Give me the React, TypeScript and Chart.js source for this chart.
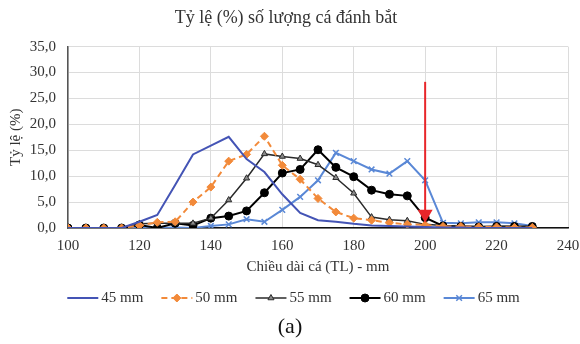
import React, { useEffect, useRef } from "react";
import { Chart, registerables } from "chart.js";
import { drawPoint } from "chart.js/helpers";

Chart.register(...registerables);

const lengths = [100, 105, 110, 115, 120, 125, 130, 135, 140, 145, 150, 155, 160, 165, 170, 175, 180, 185, 190, 195, 200, 205, 210, 215, 220, 225, 230];

const mesh45 = [0, 0, 0, 0, 1.2, 2.5, 8.3, 14.2, 15.9, 17.6, 13.3, 10.8, 6.5, 2.9, 1.5, 1.2, 0.8, 0.5, 0.4, 0.3, 0.2, 0.1, 0.1, 0, 0, 0, 0];
const mesh50 = [0, 0, 0, 0, 0.5, 1.1, 1.2, 5.0, 7.9, 12.9, 14.2, 17.7, 12.1, 9.4, 5.7, 3.1, 1.9, 1.5, 1.0, 0.7, 0.6, 0.3, 0.3, 0.2, 0.2, 0.1, 0.1];
const mesh55 = [0, 0, 0, 0.1, 0.8, 0.9, 0.9, 0.9, 1.9, 5.4, 9.6, 14.3, 13.8, 13.4, 12.2, 9.7, 6.7, 2.1, 1.6, 1.4, 0.7, 0.5, 0.4, 0.3, 0.3, 0.3, 0.2];
const mesh60 = [0, 0, 0, 0, 0.6, 0, 0.9, 0.5, 1.9, 2.3, 3.3, 6.8, 10.6, 11.3, 15.1, 11.7, 9.9, 7.3, 6.5, 6.2, 2.0, 0.4, 0.3, 0.2, 0.3, 0.3, 0.3];
const mesh65 = [0, 0, 0, 0, 0.1, 0, 0.1, 0, 0.4, 0.7, 1.7, 1.2, 3.5, 6.0, 9.2, 14.5, 12.9, 11.3, 10.5, 12.9, 9.2, 1.0, 0.9, 1.1, 1.1, 0.9, 0.4];

const seriesLabels = ["45 mm", "50 mm", "55 mm", "60 mm", "65 mm"];
const xTicks = [100, 120, 140, 160, 180, 200, 220, 240];
const yTicks = [0, 5, 10, 15, 20, 25, 30, 35];

const arrowX = 200;
const arrowFrom = 28.2;
const arrowTo = 1.0;

const chartTitle = "Tỷ lệ (%) số lượng cá đánh bắt";
const xTitle = "Chiều dài cá (TL) - mm";
const yTitle = "Tỷ lệ (%)";
const panelLabel = "(a)";

const FONT = "'Liberation Serif', 'Times New Roman', serif";
const TEXT = "#333333";

const toPoints = (vals: number[]) => lengths.map((x, i) => ({ x, y: vals[i] }));

const arrowPlugin = {
  id: "redArrow",
  afterDatasetsDraw(chart: any) {
    const { ctx, scales } = chart;
    const x = scales.x.getPixelForValue(arrowX);
    const y0 = scales.y.getPixelForValue(arrowFrom);
    const y1 = scales.y.getPixelForValue(arrowTo);
    const headH = 13;
    const headW = 7.5;
    ctx.save();
    ctx.strokeStyle = "#e8262a";
    ctx.fillStyle = "#e8262a";
    ctx.lineWidth = 2;
    ctx.beginPath();
    ctx.moveTo(x, y0);
    ctx.lineTo(x, y1 - headH + 1);
    ctx.stroke();
    ctx.beginPath();
    ctx.moveTo(x - headW, y1 - headH);
    ctx.lineTo(x + headW, y1 - headH);
    ctx.lineTo(x, y1);
    ctx.closePath();
    ctx.fill();
    ctx.restore();
  },
};

const legendPlugin = {
  id: "customLegend",
  afterDraw(chart: any) {
    const { ctx } = chart;
    const y = 298;
    const lineLen = 31;
    const gapText = 3;
    const gapItem = 18;
    ctx.save();
    ctx.font = `15px ${FONT}`;
    const widths = chart.data.datasets.map((d: any) => ctx.measureText(d.label).width);
    const total = widths.reduce((a: number, w: number) => a + lineLen + gapText + w, 0) + gapItem * (widths.length - 1);
    let x = 293.5 - total / 2;
    chart.data.datasets.forEach((d: any, i: number) => {
      ctx.save();
      ctx.strokeStyle = d.borderColor;
      ctx.lineWidth = d.borderWidth;
      ctx.setLineDash(d.borderDash || []);
      ctx.beginPath();
      ctx.moveTo(x, y);
      ctx.lineTo(x + lineLen, y);
      ctx.stroke();
      ctx.setLineDash([]);
      if (d.pointRadius > 0) {
        ctx.fillStyle = d.pointBackgroundColor;
        ctx.strokeStyle = d.pointBorderColor;
        ctx.lineWidth = d.pointBorderWidth;
        drawPoint(ctx, { pointStyle: d.pointStyle, radius: d.pointRadius, borderWidth: d.pointBorderWidth, rotation: 0 }, x + lineLen / 2, y);
      }
      ctx.restore();
      ctx.fillStyle = TEXT;
      ctx.textAlign = "left";
      ctx.textBaseline = "middle";
      ctx.fillText(d.label, x + lineLen + gapText, y);
      x += lineLen + gapText + widths[i] + gapItem;
    });
    ctx.font = `22px ${FONT}`;
    ctx.fillStyle = "#111111";
    ctx.textAlign = "center";
    ctx.textBaseline = "middle";
    ctx.fillText(panelLabel, 290, 327);
    ctx.restore();
  },
};

export default function App() {
  const ref = useRef<HTMLCanvasElement>(null);
  useEffect(() => {
    document.body.style.margin = "0";
    const chart = new Chart(ref.current!, {
      type: "line",
      data: {
        datasets: [
          {
            label: seriesLabels[0],
            data: toPoints(mesh45),
            borderColor: "#4454b5",
            backgroundColor: "#4454b5",
            borderWidth: 2,
            pointRadius: 0,
            pointStyle: "circle",
            pointBackgroundColor: "#4454b5",
            pointBorderColor: "#4454b5",
            pointBorderWidth: 1,
          },
          {
            label: seriesLabels[1],
            data: toPoints(mesh50),
            borderColor: "#f28a3a",
            backgroundColor: "#f28a3a",
            borderWidth: 2,
            borderDash: [6, 4],
            pointRadius: 4,
            pointStyle: "rectRot",
            pointBackgroundColor: "#f28a3a",
            pointBorderColor: "#f28a3a",
            pointBorderWidth: 1,
          },
          {
            label: seriesLabels[2],
            data: toPoints(mesh55),
            borderColor: "#2a2a2a",
            backgroundColor: "#2a2a2a",
            borderWidth: 1.5,
            pointRadius: 3.5,
            pointStyle: "triangle",
            pointBackgroundColor: "#8a8a8a",
            pointBorderColor: "#2a2a2a",
            pointBorderWidth: 1,
          },
          {
            label: seriesLabels[3],
            data: toPoints(mesh60),
            borderColor: "#000000",
            backgroundColor: "#000000",
            borderWidth: 2,
            pointRadius: 4,
            pointStyle: "circle",
            pointBackgroundColor: "#000000",
            pointBorderColor: "#000000",
            pointBorderWidth: 1,
          },
          {
            label: seriesLabels[4],
            data: toPoints(mesh65),
            borderColor: "#5a88d6",
            backgroundColor: "#5a88d6",
            borderWidth: 2,
            pointRadius: 4,
            pointStyle: "crossRot",
            pointBackgroundColor: "#5a88d6",
            pointBorderColor: "#5a88d6",
            pointBorderWidth: 1.5,
          },
        ],
      },
      options: {
        responsive: false,
        animation: false,
        layout: { padding: { left: 4, right: 12, top: 0, bottom: 68 } },
        font: { family: FONT },
        plugins: {
          legend: { display: false },
          tooltip: { enabled: false },
          title: {
            display: true,
            text: chartTitle,
            color: TEXT,
            font: { family: FONT, size: 18, weight: "normal" },
            padding: { top: 7, bottom: 18 },
          },
        },
        scales: {
          x: {
            type: "linear",
            min: 100,
            max: 240,
            afterBuildTicks: (s: any) => { s.ticks = xTicks.map((v) => ({ value: v })); },
            ticks: { color: TEXT, font: { family: FONT, size: 15 }, padding: 9, maxRotation: 0 },
            grid: { color: "#dcdcdc", drawTicks: false, lineWidth: 1 },
            border: { display: true, color: "#111111", width: 1.5 },
            title: { display: true, text: xTitle, color: TEXT, font: { family: FONT, size: 15 }, padding: { top: 0, bottom: 0 } },
            afterFit: (s: any) => { s.height = 48; s.paddingLeft = 0; s.paddingRight = 0; },
          },
          y: {
            min: 0,
            max: 35,
            afterBuildTicks: (s: any) => { s.ticks = yTicks.map((v) => ({ value: v })); },
            ticks: {
              color: TEXT,
              font: { family: FONT, size: 15 },
              padding: 12,
              callback: (v: any) => Number(v).toFixed(1).replace(".", ","),
            },
            grid: { color: "#dcdcdc", drawTicks: false, lineWidth: 1 },
            border: { display: true, color: "#555555", width: 1.5 },
            title: { display: true, text: yTitle, color: TEXT, font: { family: FONT, size: 15 }, padding: { top: 3, bottom: 0 } },
            afterFit: (s: any) => { s.width = 64; },
          },
        },
      },
      plugins: [arrowPlugin, legendPlugin],
    } as any);
    return () => chart.destroy();
  }, []);
  return (
    <div style={{ width: 580, height: 344, position: "relative", background: "#ffffff" }}>
      <canvas ref={ref} width={580} height={344} />
    </div>
  );
}
